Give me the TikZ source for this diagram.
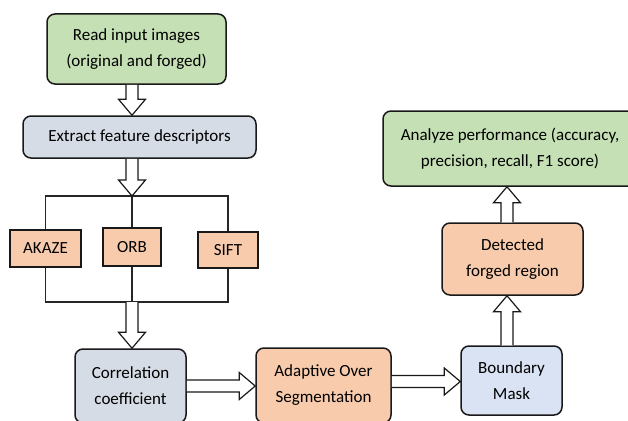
\documentclass[tikz,border=0pt]{standalone}
\usepackage{fontspec}
\setmainfont{Carlito}
\usepackage{tikz}
\usetikzlibrary{calc}

\definecolor{leafgreen}{HTML}{C5E0B4}
\definecolor{slateblue}{HTML}{D6DCE5}
\definecolor{skyblue}{HTML}{DAE3F3}
\definecolor{peach}{HTML}{F8CBAD}

% hollow block arrow from #1 to #2
\newcommand{\hollowarrow}[2]{%
  \coordinate (as) at (#1);
  \coordinate (ae) at (#2);
  \coordinate (ah) at ($(ae)!16pt!(as)$);
  \draw[hollow] ($(as)!6pt!90:(ae)$) -- ($(ah)!6pt!-90:(as)$)
    -- ($(ah)!13.5pt!-90:(as)$) -- (ae) -- ($(ah)!13.5pt!90:(as)$)
    -- ($(ah)!6pt!90:(as)$) -- ($(as)!6pt!-90:(ae)$);
}

\begin{document}
\begin{tikzpicture}[x=1pt,y=-1pt,
    box/.style={draw=black!90, line width=1.5pt, rounded corners=8pt, align=center,
      font=\fontsize{17}{26}\selectfont, inner sep=0pt},
    tag/.style={draw=black!90, line width=1.5pt, fill=peach,
      font=\fontsize{17}{20}\selectfont, inner sep=0pt},
    hollow/.style={draw=black!90, line width=1.2pt, fill=white, line join=miter},
    wire/.style={draw=black!85, line width=1.2pt}]
  \useasboundingbox (0,0) rectangle (628,420);

  % left column
  \node[box, fill=leafgreen, minimum width=179pt, minimum height=70pt] (read) at (136.5,49)
    {Read input images\\(original and forged)};
  \node[box, fill=slateblue, minimum width=233pt, minimum height=42pt] (extract) at (139.5,137)
    {Extract feature descriptors};
  \node[tag, minimum width=71pt, minimum height=37pt] (akaze) at (45.5,248.5) {AKAZE};
  \node[tag, minimum width=58pt, minimum height=38pt] (orb) at (132,247) {ORB};
  \node[tag, minimum width=60pt, minimum height=36pt] (sift) at (228,250) {SIFT};
  \node[box, fill=slateblue, minimum width=111pt, minimum height=74pt] (corr) at (130.5,386)
    {Correlation\\coefficient};

  % bottom row and right column
  \node[box, fill=peach, minimum width=135pt, minimum height=75pt] (adapt) at (323.5,385.5)
    {Adaptive Over\\Segmentation};
  \node[box, fill=skyblue, minimum width=101pt, minimum height=69pt] (mask) at (511.5,380.5)
    {Boundary\\Mask};
  \node[box, fill=peach, minimum width=141pt, minimum height=72pt] (region) at (512.5,259)
    {Detected\\forged region};
  \node[box, fill=leafgreen, minimum width=254pt, minimum height=75pt] (perf) at (510,148.5)
    {Analyze performance (accuracy,\\precision, recall, F1 score)};

  \coordinate (split) at (132,196);
  \coordinate (merge) at (132,302);

  % split to the three descriptors
  \draw[wire] (split) -- (orb.north);
  \draw[wire] (akaze.north) -- (akaze.north |- split) -- (sift.north |- split) -- (sift.north);
  % and back together
  \draw[wire] (orb.south) -- (merge);
  \draw[wire] (akaze.south) -- (akaze.south |- merge) -- (sift.south |- merge) -- (sift.south);

  \hollowarrow{read.south -| split}{extract.north -| split}
  \hollowarrow{extract.south -| split}{split}
  \hollowarrow{merge}{corr.north -| merge}
  \hollowarrow{corr.east |- 0,386}{adapt.west |- 0,386}
  \hollowarrow{adapt.east |- 0,381.5}{mask.west |- 0,381.5}
  \hollowarrow{mask.north -| 507,0}{region.south -| 507,0}
  \hollowarrow{region.north -| 507,0}{perf.south -| 507,0}
\end{tikzpicture}
\end{document}
